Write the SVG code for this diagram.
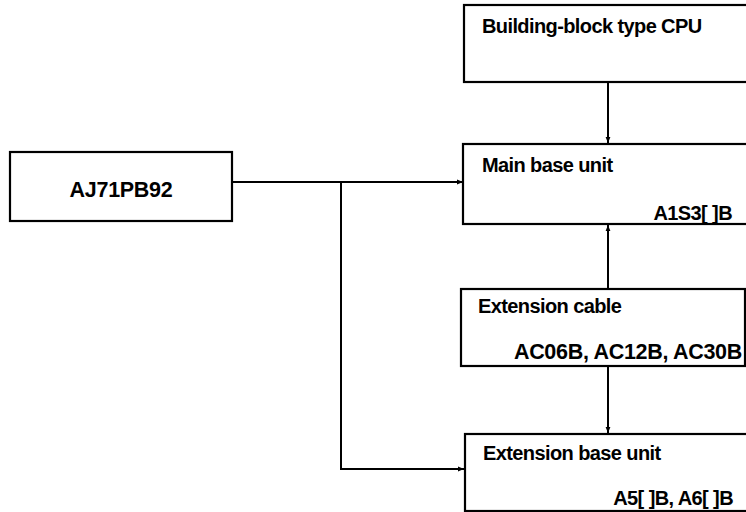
<svg xmlns="http://www.w3.org/2000/svg" width="746" height="512" viewBox="0 0 746 512">
<style>
.box{fill:#fff;stroke:#000;stroke-width:2.2}
.t{font-family:"Liberation Sans",Arial,sans-serif;font-weight:bold;font-size:20px;fill:#000;letter-spacing:-0.6px}
.r{text-anchor:end}
.ln{fill:none;stroke:#000;stroke-width:2}
</style>
<defs>
<marker id="ah" viewBox="0 0 10 10" refX="10" refY="5" markerWidth="6" markerHeight="6" markerUnits="userSpaceOnUse" orient="auto">
<path d="M0,1 L10,5 L0,9 Z" fill="#000"/>
</marker>
</defs>
<rect width="746" height="512" fill="#fff"/>
<g id="connectors">
<path class="ln" d="M232,182 H463" marker-end="url(#ah)"/>
<path class="ln" d="M341,182 V469 H464" marker-end="url(#ah)"/>
<path class="ln" d="M608,82 V143" marker-end="url(#ah)"/>
<path class="ln" d="M608,288 V225" marker-end="url(#ah)"/>
<path class="ln" d="M608,366 V433" marker-end="url(#ah)"/>
</g>
<g id="aj71pb92">
<rect class="box" x="10" y="152" width="222" height="69"/>
<text class="t" x="121" y="197" text-anchor="middle" style="font-size:21.5px;letter-spacing:-0.3px">AJ71PB92</text>
</g>
<g id="cpu">
<rect class="box" x="464" y="5" width="290" height="77"/>
<text class="t" x="482" y="33">Building-block type CPU</text>
</g>
<g id="main-base">
<rect class="box" x="463" y="144" width="290" height="80"/>
<text class="t" x="482" y="172">Main base unit</text>
<text class="t r" x="732" y="220">A1S3[ ]B</text>
</g>
<g id="ext-cable">
<rect class="box" x="461" y="289" width="284" height="77"/>
<text class="t" x="478" y="313">Extension cable</text>
<text class="t r" x="742" y="359" style="font-size:21.5px;letter-spacing:-0.3px">AC06B, AC12B, AC30B</text>
</g>
<g id="ext-base">
<rect class="box" x="465" y="434" width="290" height="77"/>
<text class="t" x="483" y="460">Extension base unit</text>
<text class="t r" x="733" y="505">A5[ ]B, A6[ ]B</text>
</g>
</svg>
